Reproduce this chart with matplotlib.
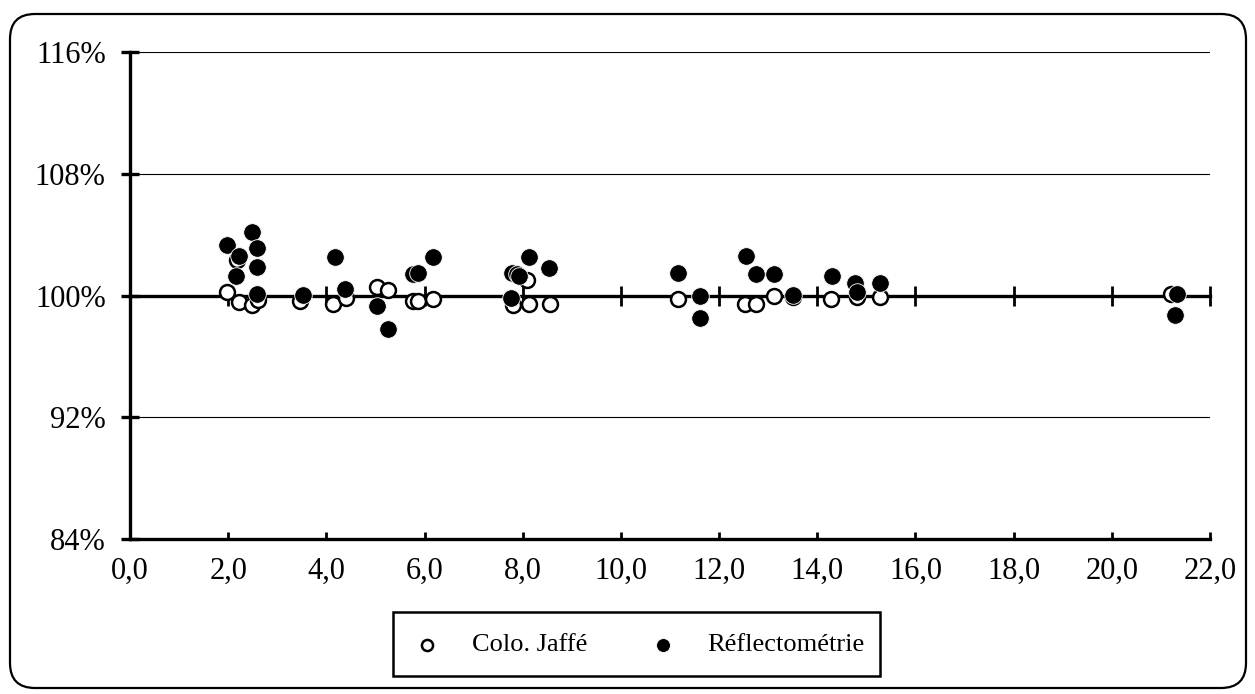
import matplotlib.pyplot as plt
from matplotlib.patches import FancyBboxPatch, Rectangle
from matplotlib.lines import Line2D
from matplotlib.ticker import FuncFormatter, NullFormatter
from matplotlib.transforms import IdentityTransform

plt.rcParams['font.family'] = ['Liberation Serif', 'DejaVu Serif']

# data (x = concentration, y = % recovery)
jaffe_x = [1.97, 2.21, 2.48, 2.61, 2.18, 3.46, 4.14, 4.41, 5.03, 5.26, 5.77, 5.87, 6.17,
           7.80, 8.08, 8.13, 8.55, 11.16, 12.53, 12.75, 13.12, 13.50, 14.29, 14.81, 15.28, 21.20]
jaffe_y = [100.2, 99.55, 99.35, 99.7, 102.3, 99.65, 99.45, 99.85, 100.55, 100.35, 99.65, 99.65, 99.8,
           99.35, 101.0, 99.45, 99.45, 99.8, 99.45, 99.45, 99.95, 99.9, 99.8, 99.9, 99.9, 100.1]

refl_x = [1.98, 2.22, 2.16, 2.49, 2.59, 2.59, 2.59, 3.52, 4.18, 4.38, 5.03, 5.25, 5.77, 5.87, 6.17,
          7.76, 7.78, 7.88, 7.92, 8.13, 8.54, 11.16, 11.61, 11.61, 12.54, 12.75, 13.12, 13.50,
          14.31, 14.77, 14.81, 15.28, 21.32, 21.29]
refl_y = [103.3, 102.6, 101.25, 104.2, 103.15, 101.9, 100.1, 100.05, 102.5, 100.4, 99.3, 97.8, 101.4, 101.5, 102.5,
          99.85, 101.5, 101.4, 101.25, 102.5, 101.8, 101.5, 100.0, 98.55, 102.6, 101.4, 101.4, 100.05,
          101.25, 100.8, 100.2, 100.8, 100.1, 98.75]

x_ticks = [0, 2, 4, 6, 8, 10, 12, 14, 16, 18, 20, 22]
y_ticks = [84, 92, 100, 108, 116]
labels = ['Colo. Jaffé', 'Réflectométrie']

fig = plt.figure(figsize=(12.55, 6.94), dpi=100)
ax = fig.add_axes([0.1036, 0.2233, 0.8605, 0.7018])

ax.set_xlim(0, 22)
ax.set_ylim(84, 116)

# horizontal gridlines (not at 84 / 100)
for v in y_ticks:
    if v not in (84, 100):
        ax.axhline(v, color='black', lw=0.8, zorder=1)

ax.scatter(jaffe_x, jaffe_y, s=115, facecolor='white', edgecolor='black', linewidths=1.8, zorder=4, clip_on=False)
ax.scatter(refl_x, refl_y, s=160, facecolor='black', edgecolor='white', linewidths=0.6, zorder=5, clip_on=False)

# spines
for s in ['top', 'right']:
    ax.spines[s].set_visible(False)
ax.spines['left'].set_linewidth(2.4)
ax.spines['bottom'].set_linewidth(2.4)

ax.set_yticks(y_ticks)
ax.yaxis.set_major_formatter(FuncFormatter(lambda v, p: '%d%%' % v))
ax.tick_params(axis='y', direction='inout', length=13, width=2.4, labelsize=22, pad=11)

ax.set_xticks(x_ticks)
ax.xaxis.set_major_formatter(FuncFormatter(lambda v, p: ('%.1f' % v).replace('.', ',')))
ax.tick_params(axis='x', direction='in', length=5, width=2.0, labelsize=22, pad=13)

# crossing line at 100% with its own ticks
mid = ax.secondary_xaxis(0.5)
mid.set_xticks(x_ticks)
mid.xaxis.set_major_formatter(NullFormatter())
for sp in mid.spines.values():
    sp.set_linewidth(2.4)
mid.tick_params(direction='inout', length=14, width=2.0, labelbottom=False, labeltop=False)
mid.set_zorder(3)

# legend box drawn by hand
fig.patches.append(Rectangle((0.3131, 0.0259), 0.388, 0.0922, transform=fig.transFigure,
                             fill=False, edgecolor='black', lw=1.8))
fig.add_artist(Line2D([0.3402], [0.0706], transform=fig.transFigure, ls='', marker='o', ms=8,
                      mfc='white', mec='black', mew=1.8))
fig.add_artist(Line2D([0.5283], [0.0706], transform=fig.transFigure, ls='', marker='o', ms=10,
                      mfc='black', mec='white', mew=0.6))
fig.text(0.3761, 0.0706, labels[0], fontsize=19, va='center', ha='left')
fig.text(0.5633, 0.0706, labels[1], fontsize=19, va='center', ha='left')

# outer rounded border
fig.patches.append(FancyBboxPatch((10, 6), 1236, 674, boxstyle='round,pad=0,rounding_size=25',
                                  transform=IdentityTransform(), fill=False, edgecolor='black', lw=1.6))

fig.savefig('out.png', dpi=100)
